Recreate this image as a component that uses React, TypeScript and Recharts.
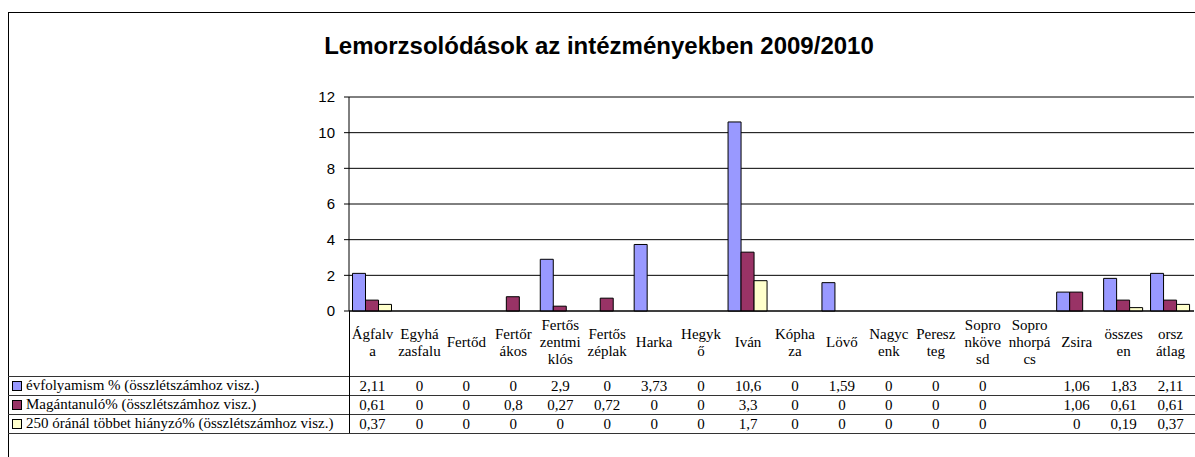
import React from 'react';
import { BarChart, Bar, XAxis, YAxis, CartesianGrid } from 'recharts';

const categories = [
  'Ágfalv\na', 'Egyhá\nzasfalu', 'Fertőd', 'Fertőr\nákos', 'Fertős\nzentmi\nklós', 'Fertős\nzéplak',
  'Harka', 'Hegyk\nő', 'Iván', 'Kópha\nza', 'Lövő', 'Nagyc\nenk', 'Peresz\nteg',
  'Sopro\nnköve\nsd', 'Sopro\nnhorpá\ncs', 'Zsira', 'összes\nen', 'orsz\nátlag',
];

const evfolyamism = [2.11, 0, 0, 0, 2.9, 0, 3.73, 0, 10.6, 0, 1.59, 0, 0, 0, null, 1.06, 1.83, 2.11];
const magantanulo = [0.61, 0, 0, 0.8, 0.27, 0.72, 0, 0, 3.3, 0, 0, 0, 0, 0, null, 1.06, 0.61, 0.61];
const hianyzo250 = [0.37, 0, 0, 0, 0, 0, 0, 0, 1.7, 0, 0, 0, 0, 0, null, 0, 0.19, 0.37];

const yTicks = [0, 2, 4, 6, 8, 10, 12];

const seriesNames = [
  'évfolyamism % (összlétszámhoz visz.)',
  'Magántanuló% (összlétszámhoz visz.)',
  '250 óránál többet hiányzó% (összlétszámhoz visz.)',
];
const seriesColors = ['#9999FF', '#993366', '#FFFFCC'];
const seriesValues = [evfolyamism, magantanulo, hianyzo250];

const data = categories.map((c, i) => ({
  name: c,
  evf: evfolyamism[i],
  mag: magantanulo[i],
  h250: hianyzo250[i],
}));

const serif = '"Liberation Serif", "Times New Roman", serif';
const sans = '"Liberation Sans", Arial, sans-serif';

const fmt = (v: number | null) => (v === null ? '' : String(v).replace('.', ','));

// table rows relative to the x axis line
const LABEL_CENTER = 31;
const LINE_H = 17;
const TABLE_TOP = 65;
const ROW_H = 19;

function CategoryTick(props: any) {
  const { x, y, payload } = props;
  const idx = payload.index ?? props.index;
  const lines = String(payload.value).split('\n');
  const first = y + LABEL_CENTER - ((lines.length - 1) * LINE_H) / 2;
  return (
    <g>
      {lines.map((l, i) => (
        <text key={i} x={x} y={first + i * LINE_H} textAnchor="middle" dominantBaseline="central"
          fontFamily={serif} fontSize={15} fill="#000">{l}</text>
      ))}
      {seriesValues.map((arr, r) => (
        <text key={'v' + r} x={x} y={y + TABLE_TOP + ROW_H / 2 + r * ROW_H} textAnchor="middle"
          dominantBaseline="central" fontFamily={serif} fontSize={15} fill="#000">{fmt(arr[idx])}</text>
      ))}
    </g>
  );
}

const AXIS_Y = 311;
const AXIS_X = 349;

export default function App() {
  return (
    <div style={{ position: 'fixed', left: 0, top: 0, width: 1195, height: 457, overflow: 'hidden', background: '#fff' }}>
      <div style={{ position: 'absolute', left: 8, top: 12, width: 1300, height: 500, borderLeft: '1px solid #000', borderTop: '1px solid #000' }} />
      <div style={{ position: 'absolute', left: 0, top: 33, width: 1198, textAlign: 'center', fontFamily: sans, fontWeight: 'bold', fontSize: 24, lineHeight: '26px', color: '#000' }}>
        Lemorzsolódások az intézményekben 2009/2010
      </div>
      <div style={{ position: 'absolute', left: 0, top: 0 }}>
        <BarChart width={1195} height={457} data={data} margin={{ top: 97, right: 1, left: 289, bottom: 0 }}
          barCategoryGap={3.5} barGap={0}>
          <CartesianGrid vertical={false} stroke="#000" />
          <XAxis dataKey="name" height={146} interval={0} tickLine={false} tickSize={0} tickMargin={0}
            axisLine={{ stroke: '#000' }} tick={<CategoryTick />} />
          <YAxis width={60} domain={[0, 12]} ticks={yTicks} interval={0} tickSize={5} tickMargin={9}
            axisLine={{ stroke: '#000' }} tickLine={{ stroke: '#000' }}
            tick={{ fontFamily: sans, fontSize: 15, fill: '#000' }} />
          <Bar dataKey="evf" fill={seriesColors[0]} stroke="#000" strokeWidth={1} isAnimationActive={false} />
          <Bar dataKey="mag" fill={seriesColors[1]} stroke="#000" strokeWidth={1} isAnimationActive={false} />
          <Bar dataKey="h250" fill={seriesColors[2]} stroke="#000" strokeWidth={1} isAnimationActive={false} />
        </BarChart>
      </div>
      {[0, 1, 2, 3].map((i) => (
        <div key={'h' + i} style={{ position: 'absolute', left: 8, top: AXIS_Y + TABLE_TOP + i * ROW_H, width: 1187, height: 1, background: '#333' }} />
      ))}
      <div style={{ position: 'absolute', left: AXIS_X, top: AXIS_Y, width: 1, height: TABLE_TOP + 3 * ROW_H, background: '#000' }} />
      {seriesNames.map((n, r) => (
        <div key={'l' + r} style={{ position: 'absolute', left: 12, top: AXIS_Y + TABLE_TOP + r * ROW_H, height: ROW_H, display: 'flex', alignItems: 'center', fontFamily: serif, fontSize: 15, color: '#000', whiteSpace: 'nowrap' }}>
          <span style={{ display: 'inline-block', width: 8, height: 8, background: seriesColors[r], border: '1px solid #000', marginRight: 4 }} />
          {n}
        </div>
      ))}
    </div>
  );
}
